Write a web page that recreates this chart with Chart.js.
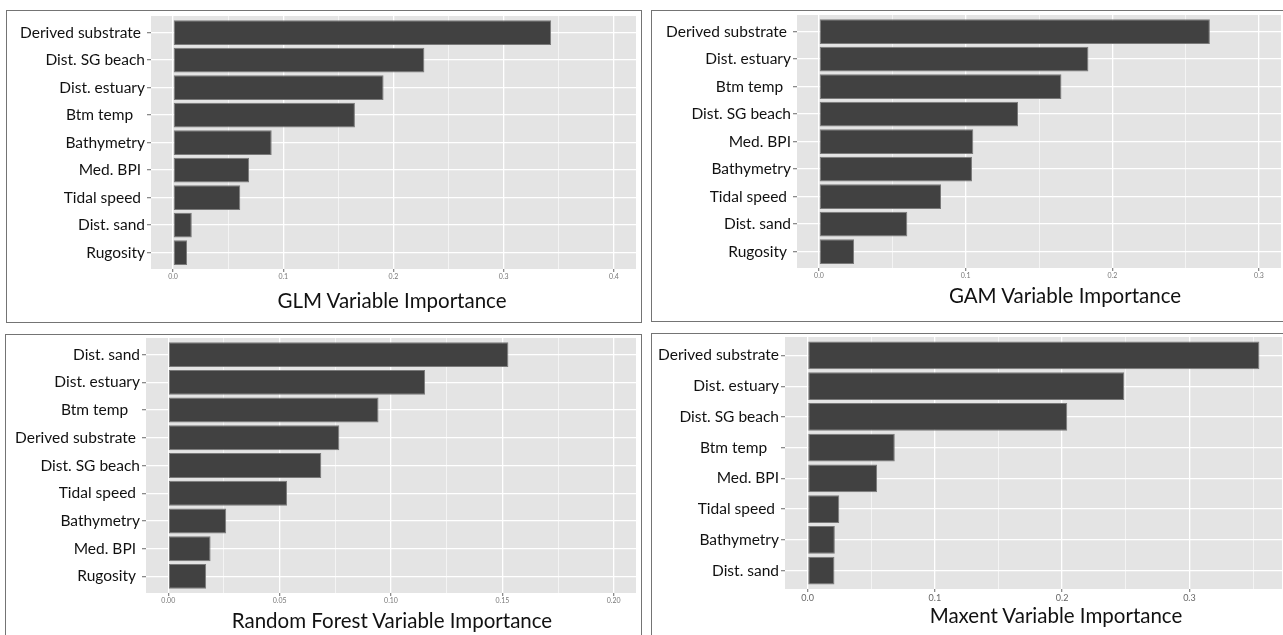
<!DOCTYPE html>
<html>
<head>
<meta charset="utf-8">
<script src="https://cdn.jsdelivr.net/npm/chart.js@4.4.0/dist/chart.umd.min.js"></script>
<style>
  html, body { margin: 0; padding: 0; background: #fff; }
  body { width: 1283px; height: 635px; position: relative; overflow: hidden; font-family: Lato, "Open Sans", sans-serif; }
  .panel { position: absolute; border: 1px solid #747474; box-sizing: border-box; }
  canvas { position: absolute; }
  .title { position: absolute; font-size: 20.5px; color: #111; white-space: nowrap; transform: translate(-50%, -50%); }
</style>
</head>
<body>
<div class="panel" style="left:6px;top:10px;width:636px;height:313px"></div>
<div class="panel" style="left:651px;top:10px;width:640px;height:312px"></div>
<div class="panel" style="left:5px;top:334px;width:637px;height:320px"></div>
<div class="panel" style="left:651px;top:333px;width:640px;height:320px"></div>

<canvas id="glm"></canvas>
<canvas id="gam"></canvas>
<canvas id="rf"></canvas>
<canvas id="maxent"></canvas>

<div class="title" style="left:392px;top:300px">GLM Variable Importance</div>
<div class="title" style="left:1065px;top:295px">GAM Variable Importance</div>
<div class="title" style="left:392px;top:620px">Random Forest Variable Importance</div>
<div class="title" style="left:1056px;top:615px">Maxent Variable Importance</div>

<script>
// GLM
var glmLabels = ['Derived substrate ', 'Dist. SG beach', 'Dist. estuary', 'Btm temp   ', 'Bathymetry', 'Med. BPI ', 'Tidal speed ', 'Dist. sand', 'Rugosity'];
var glmValues = [0.343, 0.228, 0.191, 0.165, 0.0895, 0.069, 0.061, 0.017, 0.0127];
var glmTicks = [0, 0.1, 0.2, 0.3, 0.4];
var glmTickLabels = ['0.0', '0.1', '0.2', '0.3', '0.4'];
var glmLimits = [0, 0.4];

// GAM
var gamLabels = ['Derived substrate ', 'Dist. estuary', 'Btm temp  ', 'Dist. SG beach', 'Med. BPI', 'Bathymetry', 'Tidal speed ', 'Dist. sand', 'Rugosity '];
var gamValues = [0.2665, 0.1837, 0.1653, 0.1357, 0.1052, 0.1043, 0.0832, 0.0602, 0.0239];
var gamTicks = [0, 0.1, 0.2, 0.3];
var gamTickLabels = ['0.0', '0.1', '0.2', '0.3'];
var gamLimits = [0, 0.3];

// Random forest
var rfLabels = ['Dist. sand', 'Dist. estuary', 'Btm temp   ', 'Derived substrate ', 'Dist. SG beach', 'Tidal speed ', 'Bathymetry', 'Med. BPI ', 'Rugosity '];
var rfValues = [0.1527, 0.1153, 0.0944, 0.0768, 0.0687, 0.0533, 0.026, 0.019, 0.017];
var rfTicks = [0, 0.05, 0.1, 0.15, 0.2];
var rfTickLabels = ['0.00', '0.05', '0.10', '0.15', '0.20'];
var rfLimits = [0, 0.2];

// Maxent
var maxentLabels = ['Derived substrate', 'Dist. estuary', 'Dist. SG beach', 'Btm temp   ', 'Med. BPI', 'Tidal speed ', 'Bathymetry', 'Dist. sand'];
var maxentValues = [0.355, 0.2488, 0.204, 0.0685, 0.0546, 0.0249, 0.0214, 0.0211];
var maxentTicks = [0, 0.1, 0.2, 0.3];
var maxentTickLabels = ['0.0', '0.1', '0.2', '0.3'];
var maxentLimits = [0, Math.max.apply(null, maxentValues)];

// grey panel background, like ggplot
var panelBg = {
    id: 'panelBg',
    beforeDraw: function(chart) {
        var a = chart.chartArea, ctx = chart.ctx;
        ctx.save();
        ctx.fillStyle = '#e4e4e4';
        ctx.fillRect(a.left, a.top, a.right - a.left, a.bottom - a.top);
        ctx.restore();
    }
};

function makeChart(id, c, g, labels, values, limits, ticks, tickLabels, tickFont) {
    var canvas = document.getElementById(id);
    canvas.width = c.r - c.l;
    canvas.height = c.b - c.t;
    canvas.style.left = c.l + 'px';
    canvas.style.top = c.t + 'px';

    var span = limits[1] - limits[0];
    var lo = limits[0] - span * 0.05, hi = limits[1] + span * 0.05;
    var step = ticks[1] - ticks[0];
    var all = ticks.slice();
    for (var i = -1; i < ticks.length; i++) {
        var m = ticks[0] + step * (i + 0.5);
        if (m >= lo && m <= hi) all.push(m);
    }
    all.sort(function(a, b) { return a - b; });

    function majorIndex(v) {
        for (var k = 0; k < ticks.length; k++) {
            if (Math.abs(ticks[k] - v) < 1e-9) return k;
        }
        return -1;
    }

    return new Chart(canvas, {
        type: 'bar',
        data: {
            datasets: [{
                data: values.map(function(v, i) { return {x: v, y: i}; }),
                backgroundColor: '#414141',
                borderColor: '#7a7a7a',
                borderWidth: 1,
                borderSkipped: false,
                categoryPercentage: 0.9,
                barPercentage: 1
            }]
        },
        options: {
            indexAxis: 'y',
            responsive: false,
            animation: false,
            devicePixelRatio: 1,
            layout: {padding: {left: 0, top: g.t - c.t, right: c.r - g.r, bottom: 0}},
            plugins: {legend: {display: false}, tooltip: {enabled: false}},
            scales: {
                x: {
                    type: 'linear',
                    min: lo,
                    max: hi,
                    afterBuildTicks: function(s) {
                        s.ticks = all.map(function(v) { return {value: v}; });
                    },
                    afterFit: function(s) {
                        s.height = c.b - g.b;
                        s.paddingLeft = 0;
                        s.paddingRight = 0;
                    },
                    ticks: {
                        autoSkip: false,
                        maxRotation: 0,
                        padding: 1,
                        color: tickFont.color,
                        font: {family: 'Lato', size: tickFont.size},
                        callback: function(v) {
                            var k = majorIndex(v);
                            return k < 0 ? '' : tickLabels[k];
                        }
                    },
                    grid: {
                        color: '#ffffff',
                        lineWidth: function(ctx) { return majorIndex(ctx.tick.value) < 0 ? 0.6 : 1.3; },
                        tickLength: 3,
                        tickColor: function(ctx) { return majorIndex(ctx.tick.value) < 0 ? 'rgba(0,0,0,0)' : '#8a8a8a'; }
                    },
                    border: {display: false}
                },
                y: {
                    type: 'linear',
                    reverse: true,
                    offset: false,
                    min: -0.6,
                    max: labels.length - 0.4,
                    afterBuildTicks: function(s) {
                        s.ticks = labels.map(function(_, i) { return {value: i}; });
                    },
                    afterFit: function(s) {
                        s.width = g.l - c.l;
                        s.paddingTop = 0;
                        s.paddingBottom = 0;
                    },
                    ticks: {
                        autoSkip: false,
                        padding: 2,
                        color: '#111111',
                        font: {family: 'Lato', size: 15.5},
                        callback: function(v) { return labels[v]; }
                    },
                    grid: {
                        color: '#ffffff',
                        lineWidth: 1.3,
                        offset: false,
                        tickLength: 4,
                        tickColor: '#8a8a8a'
                    },
                    border: {display: false}
                }
            }
        },
        plugins: [panelBg]
    });
}

var smallTicks = {size: 7, color: '#777777'};

makeChart('glm', {l: 8, t: 12, r: 639, b: 292}, {l: 151, t: 16, r: 636, b: 269},
    glmLabels, glmValues, glmLimits, glmTicks, glmTickLabels, smallTicks);
makeChart('gam', {l: 653, t: 12, r: 1283, b: 292}, {l: 797, t: 15, r: 1281, b: 268},
    gamLabels, gamValues, gamLimits, gamTicks, gamTickLabels, smallTicks);
makeChart('rf', {l: 7, t: 336, r: 639, b: 615}, {l: 146, t: 338, r: 636, b: 593},
    rfLabels, rfValues, rfLimits, rfTicks, rfTickLabels, smallTicks);
makeChart('maxent', {l: 653, t: 335, r: 1283, b: 612}, {l: 785, t: 337, r: 1282, b: 589},
    maxentLabels, maxentValues, maxentLimits, maxentTicks, maxentTickLabels, {size: 9, color: '#666666'});
</script>
</body>
</html>
